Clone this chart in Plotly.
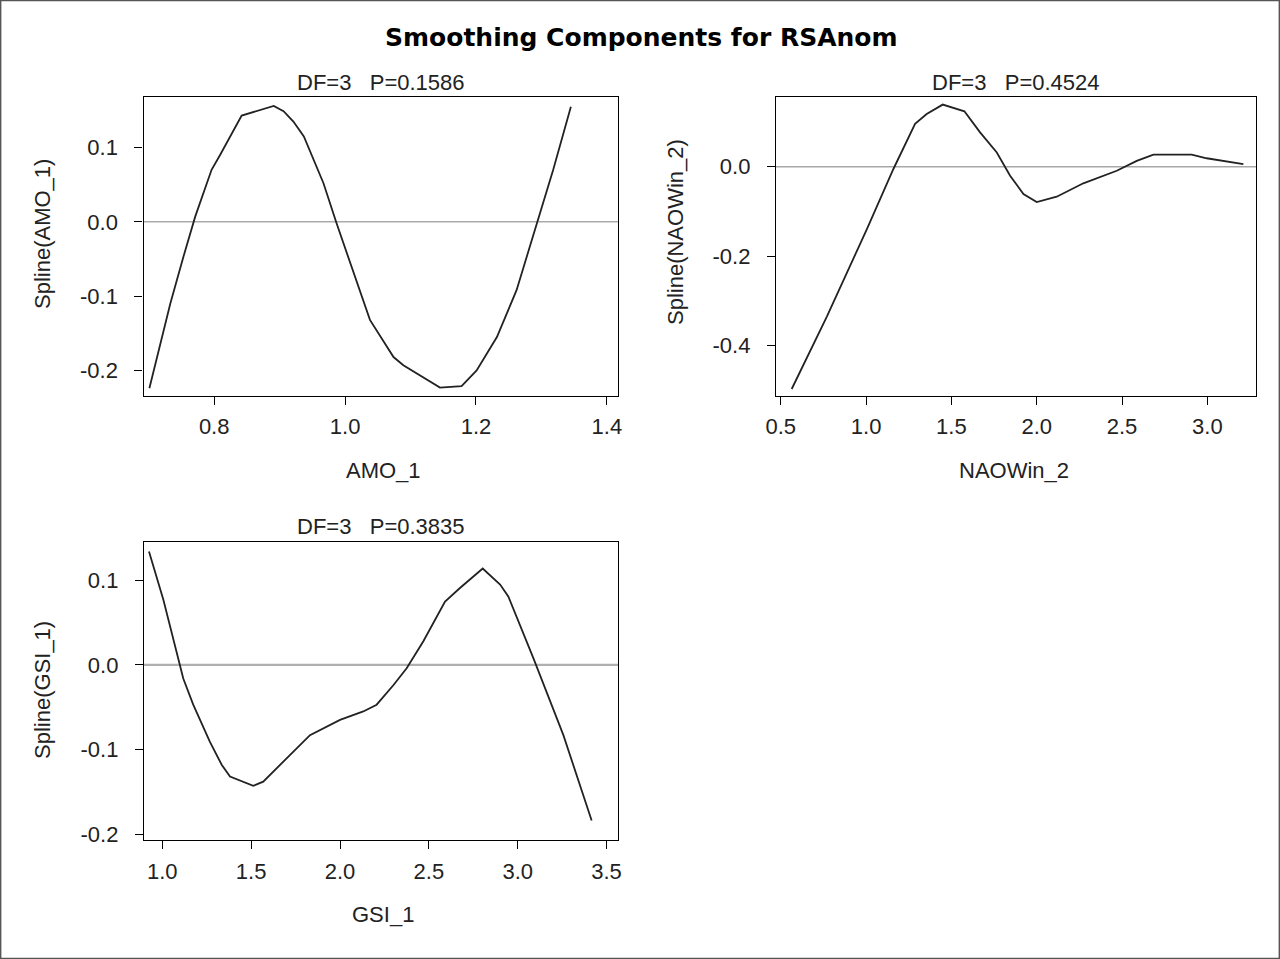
import plotly.graph_objects as go

# ---- data ----
amo_x = [0.701, 0.733, 0.753, 0.771, 0.796, 0.809, 0.842, 0.891, 0.906, 0.921, 0.937,
         0.967, 0.987, 1.008, 1.038, 1.074, 1.089, 1.145, 1.178, 1.201, 1.232, 1.262,
         1.293, 1.318, 1.345]
amo_y = [-0.224, -0.110, -0.047, 0.007, 0.070, 0.090, 0.143, 0.156, 0.149, 0.135, 0.115,
         0.052, -0.002, -0.056, -0.132, -0.182, -0.193, -0.223, -0.221, -0.200, -0.155,
         -0.092, -0.002, 0.070, 0.155]

nao_x = [0.564, 0.770, 1.004, 1.160, 1.287, 1.355, 1.449, 1.576, 1.668, 1.766, 1.844,
         1.922, 2.000, 2.117, 2.273, 2.469, 2.586, 2.684, 2.908, 2.996, 3.211]
nao_y = [-0.497, -0.335, -0.140, -0.005, 0.096, 0.118, 0.139, 0.124, 0.077, 0.032, -0.020,
         -0.061, -0.079, -0.067, -0.037, -0.009, 0.013, 0.027, 0.027, 0.019, 0.006]

gsi_x = [0.925, 1.006, 1.118, 1.174, 1.268, 1.334, 1.381, 1.512, 1.568, 1.681, 1.831,
         2.000, 2.131, 2.206, 2.300, 2.375, 2.469, 2.591, 2.675, 2.803, 2.901, 2.947,
         3.088, 3.257, 3.416]
gsi_y = [0.134, 0.077, -0.016, -0.047, -0.091, -0.118, -0.132, -0.143, -0.138, -0.114,
         -0.083, -0.065, -0.055, -0.047, -0.024, -0.004, 0.028, 0.075, 0.091, 0.114, 0.095,
         0.081, 0.008, -0.083, -0.184]

amo_xticks = [0.8, 1.0, 1.2, 1.4]
amo_yticks = [-0.2, -0.1, 0.0, 0.1]
nao_xticks = [0.5, 1.0, 1.5, 2.0, 2.5, 3.0]
nao_yticks = [-0.4, -0.2, 0.0]
gsi_xticks = [1.0, 1.5, 2.0, 2.5, 3.0, 3.5]
gsi_yticks = [-0.2, -0.1, 0.0, 0.1]

title = "Smoothing Components for RSAnom"
subtitles = ["DF=3   P=0.1586", "DF=3   P=0.4524", "DF=3   P=0.3835"]
xtitles = ["AMO_1", "NAOWin_2", "GSI_1"]
ytitles = ["Spline(AMO_1)", "Spline(NAOWin_2)", "Spline(GSI_1)"]

W, H = 1280, 959
FONT = "Liberation Sans, Arial, sans-serif"
TFONT = "DejaVu Sans, Verdana, sans-serif"
FS = 22
TXT = "#222222"

def px(x):
    return x / W

def py(y):
    return 1 - y / H

fig = go.Figure()

panels = [
    dict(xs=amo_x, ys=amo_y, xa="x", ya="y", xr=[0.692, 1.417], yr=[-0.234, 0.168],
         xt=amo_xticks, yt=amo_yticks, dom_x=[143.5, 618], dom_y=[97, 395.7],
         zcol="#808080", zw=1),
    dict(xs=nao_x, ys=nao_y, xa="x2", ya="y2", xr=[0.472, 3.285], yr=[-0.512, 0.156],
         xt=nao_xticks, yt=nao_yticks, dom_x=[776, 1256], dom_y=[97, 395.7],
         zcol="#a8a8a8", zw=1.5),
    dict(xs=gsi_x, ys=gsi_y, xa="x3", ya="y3", xr=[0.897, 3.566], yr=[-0.207, 0.145],
         xt=gsi_xticks, yt=gsi_yticks, dom_x=[144, 618.3], dom_y=[542.3, 840],
         zcol="#b0b0b0", zw=2.2),
]

layout_axes = {}
for i, p in enumerate(panels):
    fig.add_trace(go.Scatter(x=p["xs"], y=p["ys"], mode="lines", xaxis=p["xa"], yaxis=p["ya"],
                             line=dict(color="#222222", width=1.8), showlegend=False,
                             hoverinfo="skip"))
    sfx = "" if i == 0 else str(i + 1)
    common = dict(showline=True, mirror=True, linecolor="black", linewidth=1.3,
                  ticks="outside", ticklen=8, tickwidth=1.2, tickcolor="black",
                  showgrid=False, zeroline=False, automargin=False,
                  tickfont=dict(family=FONT, size=FS, color=TXT))
    layout_axes["xaxis" + sfx] = dict(common, domain=[px(p["dom_x"][0]), px(p["dom_x"][1])],
                                      range=p["xr"], tickvals=p["xt"],
                                      ticktext=[f"{v:.1f}" for v in p["xt"]],
                                      ticklabelstandoff=3,
                                      anchor="y" + sfx)
    layout_axes["yaxis" + sfx] = dict(common, domain=[py(p["dom_y"][1]), py(p["dom_y"][0])],
                                      range=p["yr"], tickvals=p["yt"],
                                      ticktext=[f"{v:.1f}" for v in p["yt"]],
                                      ticklabelstandoff=12,
                                      anchor="x" + sfx)
    fig.add_shape(type="line", xref=p["xa"] + " domain", yref=p["ya"], x0=0, x1=1, y0=0, y1=0,
                  line=dict(color=p["zcol"], width=p["zw"]), layer="below")

fig.update_layout(**layout_axes)

ann = []
ann.append(dict(text="<b>" + title + "</b>", x=px(641), y=py(38), xref="paper", yref="paper",
                showarrow=False, font=dict(family=TFONT, size=25, color="black"),
                xanchor="center", yanchor="middle"))
sub_pos = [(381, 82), (1016, 82), (381, 526)]
for t, (x, y) in zip(subtitles, sub_pos):
    ann.append(dict(text=t, x=px(x), y=py(y), xref="paper", yref="paper", showarrow=False,
                    font=dict(family=FONT, size=FS, color=TXT),
                    xanchor="center", yanchor="middle"))
xt_pos = [(383, 470), (1014, 470), (383, 914)]
for t, (x, y) in zip(xtitles, xt_pos):
    ann.append(dict(text=t, x=px(x), y=py(y), xref="paper", yref="paper", showarrow=False,
                    font=dict(family=FONT, size=FS, color=TXT),
                    xanchor="center", yanchor="middle"))
yt_pos = [(42, 234), (675, 232), (42, 690)]
for t, (x, y) in zip(ytitles, yt_pos):
    ann.append(dict(text=t, x=px(x), y=py(y), xref="paper", yref="paper", showarrow=False,
                    textangle=-90, font=dict(family=FONT, size=FS, color=TXT),
                    xanchor="center", yanchor="middle"))

fig.update_layout(annotations=ann, width=W, height=H,
                  margin=dict(l=0, r=0, t=0, b=0),
                  paper_bgcolor="white", plot_bgcolor="white")
fig.add_shape(type="rect", xref="paper", yref="paper", x0=0.0005, x1=0.9995, y0=0.0005,
              y1=0.9995, line=dict(color="#555555", width=1.5))

fig.write_html("out.html", config={"displayModeBar": False},
               post_script="document.body.style.margin='0';document.body.style.padding='0';")
